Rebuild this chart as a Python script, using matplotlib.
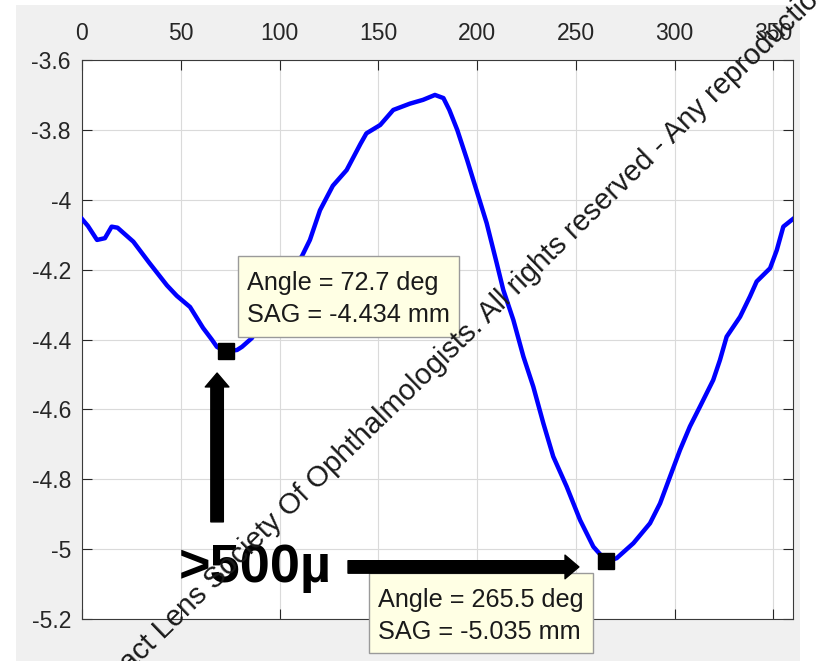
import matplotlib
matplotlib.use("Agg")
import matplotlib.pyplot as plt
from matplotlib.patches import Rectangle
from matplotlib.ticker import FuncFormatter
from matplotlib.transforms import Affine2D, ScaledTranslation

plt.rcParams["font.family"] = ["Liberation Sans", "DejaVu Sans"]

# SAG profile along the meridian angle (deg -> mm)
angle = [0, 3, 7.6, 11.6, 15, 18, 26, 34, 43, 48,
         54.7, 61.3, 65.7, 68.3, 72.7, 78.5, 81, 86, 95, 103,
         111.4, 115.4, 120.5, 127, 134, 141, 144, 151, 157.6, 166,
         172.7, 178.7, 183, 186, 190, 195, 198.1, 204.9, 210, 213.3,
         218.4, 223.5, 228.5, 233.6, 238.6, 245.4, 252.2, 258.9, 265.5, 270.7,
         279.2, 287.6, 292.7, 297.7, 302.8, 307.8, 312.9, 319.6, 323, 326.4,
         333.2, 338.2, 341.6, 348.4, 351.8, 355.1, 359.3, 360]
sag = [-4.055, -4.075, -4.115, -4.11, -4.077, -4.08, -4.12, -4.18, -4.245, -4.275,
       -4.307, -4.367, -4.40, -4.421, -4.434, -4.43, -4.421, -4.396, -4.31, -4.225,
       -4.161, -4.115, -4.03, -3.96, -3.915, -3.84, -3.81, -3.786, -3.743, -3.725,
       -3.714, -3.70, -3.709, -3.743, -3.80, -3.886, -3.943, -4.067, -4.182, -4.258,
       -4.344, -4.449, -4.535, -4.64, -4.735, -4.821, -4.917, -4.993, -5.035, -5.026,
       -4.983, -4.926, -4.869, -4.793, -4.716, -4.649, -4.592, -4.516, -4.459, -4.392,
       -4.335, -4.277, -4.234, -4.196, -4.144, -4.077, -4.058, -4.055]

# data tips at the two minima
tip_angle = [72.7, 265.5]
tip_sag = [-4.434, -5.035]
# box corner (left, top) and size relative to the tip, in pixels
tip_box = [(12, 95, 221, 81), (-237, -12, 224, 80)]

x_ticks = [0, 50, 100, 150, 200, 250, 300, 350]
y_ticks = [-5.2, -5.0, -4.8, -4.6, -4.4, -4.2, -4.0, -3.8, -3.6]

label_text = ">500\u00b5"
notice = ("Contact Lens Society Of Ophthalmologists. All rights reserved - "
          "Any reproduction is prohibited")

W, H = 819, 661
fig = plt.figure(figsize=(W / 100, H / 100), dpi=100)
fig.patches.append(Rectangle((16 / W, 0), 784 / W, 656 / H, transform=fig.transFigure,
                             facecolor="#f0f0f0", edgecolor="none", zorder=-10))

ax = fig.add_axes([82 / W, 42 / H, 711 / W, 559 / H])
ax.plot(angle, sag, color=(0, 0, 1), lw=3.2, solid_joinstyle="round", zorder=3)

ax.set_xlim(0, 360)
ax.set_ylim(-5.2, -3.6)
ax.set_xticks(x_ticks)
ax.set_yticks(y_ticks)
ax.yaxis.set_major_formatter(FuncFormatter(lambda v, p: f"{round(v, 1):g}"))
ax.xaxis.tick_top()
ax.tick_params(direction="in", length=7, width=0.8, color="#262626",
               labelcolor="#262626", labelsize=16.5,
               top=True, bottom=True, left=True, right=True,
               labeltop=True, labelbottom=False)
ax.tick_params(axis="x", pad=11)
ax.tick_params(axis="y", pad=8)
ax.grid(True, color="#dadada", lw=0.8)
ax.set_axisbelow(True)
for sp in ax.spines.values():
    sp.set_color("#3a3a3a")
    sp.set_linewidth(0.8)

# data tip markers and boxes
for a, s, (bx, by, bw, bh) in zip(tip_angle, tip_sag, tip_box):
    ax.plot([a], [s], "s", color="k", ms=12, zorder=6, clip_on=False)
    at_tip = ScaledTranslation(a, s, ax.transData)
    box = Rectangle((bx, by - bh), bw, bh, transform=Affine2D() + at_tip,
                    facecolor="#ffffe4", edgecolor="#9a9a9a", lw=1, zorder=7,
                    clip_on=False)
    ax.add_patch(box)
    lines = [f"Angle = {a:.1f} deg", f"SAG = {s:.3f} mm"]
    for i, line in enumerate(lines):
        ax.annotate(line, xy=(a, s), xytext=(bx + 9, by - 34 - 32 * i),
                    textcoords="offset pixels", ha="left", va="baseline",
                    fontsize=18.2, color="#1a1a1a", zorder=8, annotation_clip=False)

# arrows pointing at the two minima
arrow = dict(facecolor="k", edgecolor="k", width=9, headwidth=17, headlength=10, shrink=0)
ax.annotate("", xy=(tip_angle[0] - 4.3, tip_sag[0] - 0.062),
            xytext=(tip_angle[0] - 4.3, tip_sag[0] - 0.488), arrowprops=arrow, zorder=9)
ax.annotate("", xy=(tip_angle[1] - 13.9, tip_sag[1] - 0.016),
            xytext=(134.7, tip_sag[1] - 0.016), arrowprops=arrow, zorder=9)
ax.text(87.6, -5.094, label_text, fontsize=39, fontweight="bold", ha="center",
        va="baseline", color="k", zorder=9)

fig.text(0.1043, -0.0820, notice, rotation=44.2, rotation_mode="anchor",
         ha="left", va="baseline", fontsize=21, color="#1a1a1a", zorder=20)

fig.savefig("out.png", dpi=100, facecolor="white")
